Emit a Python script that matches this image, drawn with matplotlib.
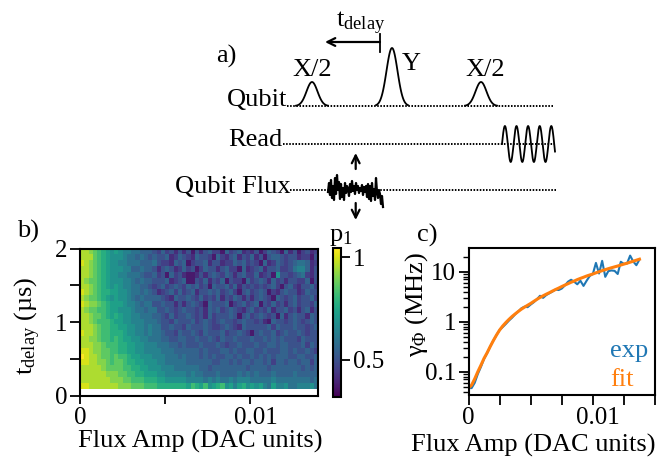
import numpy as np
import matplotlib
matplotlib.use("Agg")
import matplotlib.pyplot as plt
from matplotlib.ticker import NullFormatter, FixedLocator
from matplotlib.transforms import ScaledTranslation

plt.rcParams['font.family'] = ['Liberation Serif', 'DejaVu Serif']
plt.rcParams['mathtext.fontset'] = 'custom'
plt.rcParams['mathtext.rm'] = 'Liberation Serif'
plt.rcParams['mathtext.it'] = 'Liberation Serif'
plt.rcParams['mathtext.bf'] = 'Liberation Serif'
plt.rcParams['mathtext.default'] = 'rm'

# heatmap p1, one hex level per cell, top row is t = 2 us
p1_rows = [
 "ddcba987 87665544 43242313 13031342 20423412 13024320 41302312",
 "dddba987 77655454 34334124 32143320 42134132 41303443 23312203",
 "edcba987 76655544 45322143 40233413 31224342 32041243 23455412",
 "ddcba987 77664454 43134312 42302433 13422041 23413342 23566413",
 "ddcba987 76655543 34230423 10013134 32431342 24123073 32345213",
 "dcbba987 77665454 43334123 40032413 24032204 23431423 13322403",
 "ddcba987 87665544 32342343 24342304 33424132 32323420 34213342",
 "edcba998 87765545 43123424 23413343 42342034 23430213 43312433",
 "dcbba987 87765454 44432143 34324232 41324313 13432043 23423342",
 "edccba98 88766545 53343313 13432043 33402342 34032423 13423324",
 "dcbbaa98 87776554 55334323 43323143 42343213 42324133 42313413",
 "ddcbba98 98776655 54432423 34323142 33343034 23432304 13433143",
 "ddcbaaa9 88776665 55433243 33423432 34332343 32310433 23432343",
 "dddcbaa9 98877665 65533433 24333432 23432143 33334243 33433234",
 "eddcbaa9 99877665 65543324 33432433 34233432 03433423 43343233",
 "ddccbaa9 a9887766 55544334 43343343 24334333 43343434 33324333",
 "dddccbaa a9988776 66555443 43334333 43233433 34334434 43334243",
 "eedccbba a9988776 66655544 44443433 34434334 43343334 43433432",
 "feddcbba baa98877 76665554 54443434 33443433 43434344 43344334",
 "eeddccba bba99887 77665555 54444443 34434344 34434244 34434424",
 "dddddcbb bbaa9988 77766655 55554434 44444443 44443444 44443434",
 "ddddddcc cbbaa998 88776666 65655444 54444545 45444544 44544444",
 "dddddddc ccbbaaa9 99887777 76666565 65565666 55555655 55555545",
 "eedddddd dcccbbba aa999999 98a98a78 9a786897 87865866 75566675",
]
p1_level_start = 0.37
p1_level_step = 0.045

flux_amp = [i * 0.00025 for i in range(56)]
gamma_exp = [.047,.047,.06,.09,.125,.18,.235,.32,.42,.54,.68,.78,.90,1.05,1.2,1.4,
             1.6,1.85,2.0,1.95,2.2,2.45,2.8,3.3,3.0,3.4,3.7,4.0,4.4,4.3,4.6,5.3,
             6.3,6.9,6.3,5.6,6.6,5.2,6.6,8.2,9.0,15,9.2,16.5,7.9,10.3,10.6,10.4,
             9.0,15.8,14.3,14.6,21,16,13.5,17.5]
gamma_fit = [.047,.054,.072,.10,.135,.185,.24,.32,.42,.54,.68,.82,.96,1.11,1.27,1.43,
             1.6,1.78,1.95,2.13,2.32,2.55,2.8,3.05,3.3,3.55,3.8,4.1,4.4,4.7,5.05,5.4,
             5.75,6.15,6.5,6.95,7.35,7.75,8.2,8.6,9.0,9.5,10,10.5,11,11.5,
             12,12.5,13,13.6,14.2,14.8,15.5,16.2,17,17.8]
log_minor_ticks = [.04, .05, .06, .07, .08, .09, .2, .3, .4, .5, .6, .7, .8, .9,
                   2, 3, 4, 5, 6, 7, 8, 9, 20]

# schematic flux noise, pixel positions
noise_x = [328,329,330,331,332,333,334,335,336,337,338,339,340,341,342,343,344,345,346,347,
           348,349,350,351,352,353,354,355,356,357,358,359,360,361,362,363,364,365,366,367,
           368,369,370,371,372,373,374,375,376,377,378,379,380,381,382,383]
noise_y = [192,183,195,180,198,186,200,178,194,175,190,182,199,184,197,188,200,183,193,186,
           189,196,184,192,181,191,186,194,183,190,186,193,188,191,185,195,187,192,186,197,
           184,199,186,201,183,196,189,200,178,192,198,190,194,204,196,207]

W, H = 660, 457
fig = plt.figure(figsize=(W / 100, H / 100), dpi=100, facecolor='white')


def box(l, t, r, b):
    return [l / W, 1 - b / H, (r - l) / W, (b - t) / H]


FS = 19
TS = 18
SP = 1.5
ax_b = fig.add_axes(box(80, 248.5, 318, 396))
ax_c = fig.add_axes(box(468.5, 248, 655, 395))
ax_cb = fig.add_axes(box(333, 248, 341, 396.5))
ov = fig.add_axes([0, 0, 1, 1], facecolor='none', zorder=5)
ov.set_xlim(0, W)
ov.set_ylim(H, 0)
ov.axis('off')

# panel b
grid = np.array([[p1_level_start + p1_level_step * int(c, 16) for c in r.replace(' ', '')]
                 for r in p1_rows])
x_edges = np.linspace(0, 0.014, grid.shape[1] + 1)
y_edges = np.linspace(2, 0.1, grid.shape[0] + 1)
mesh = ax_b.pcolormesh(x_edges, y_edges, grid, cmap='viridis', vmin=0.322, vmax=1.044, rasterized=True)
ax_b.set_xlim(0, 0.014)
ax_b.set_ylim(0, 2)
ax_b.set_xticks([0, 0.005, 0.01], ['0', '', '0.01'])
ax_b.set_yticks([0, 0.5, 1, 1.5, 2], ['0', '', '1', '', '2'])
ax_b.set_xlabel('Flux Amp (DAC units)', fontsize=FS, va='baseline')
ax_b.xaxis.set_label_coords(200, 448, transform=ov.transData)
ax_b.set_ylabel(r'$\mathrm{t_{delay}}$ (µs)', fontsize=FS, va='baseline')
ax_b.yaxis.set_label_coords(33, 326, transform=ov.transData)

# colorbar
cb = fig.colorbar(mesh, cax=ax_cb)
cb.set_ticks([0.5, 1], labels=['0.5', '1'])
cb.ax.tick_params(length=6.5, width=1.3, labelsize=TS, pad=2)
cb.outline.set_linewidth(SP)

# panel c
ax_c.plot(flux_amp, gamma_exp, color='#1f77b4', lw=1.5)
ax_c.plot(flux_amp, gamma_fit, color='#ff7f0e', lw=2.2)
ax_c.set_yscale('log')
ax_c.set_xlim(0, 0.015)
ax_c.set_ylim(0.0342, 29.8)
ax_c.set_xticks([0, .0025, .005, .0075, .01, .0125, .015], ['0', '', '', '', '0.01', '', ''])
ax_c.yaxis.set_major_locator(FixedLocator([0.1, 1, 10]))
ax_c.yaxis.set_major_formatter(plt.FixedFormatter(['0.1', '1', '10']))
ax_c.yaxis.set_minor_locator(FixedLocator(log_minor_ticks))
ax_c.yaxis.set_minor_formatter(NullFormatter())
ax_c.set_xlabel('Flux Amp (DAC units)', fontsize=FS, va='baseline')
ax_c.xaxis.set_label_coords(533.5, 451.5, transform=ov.transData)
ax_c.set_ylabel(r'$\gamma_{\Phi}$ (MHz)', fontsize=FS, va='baseline')
ax_c.yaxis.set_label_coords(423, 304, transform=ov.transData)

for ax in (ax_b, ax_c):
    for s in ax.spines.values():
        s.set_linewidth(SP)
    ax.tick_params(which='major', length=7, width=1.3, labelsize=TS, pad=2)
    ax.tick_params(which='minor', length=4, width=1.0)
ax_b.tick_params(axis='x', length=6)

# the 0.01 labels sit a little right of their ticks in the reference
shift = ScaledTranslation(5.5 / 100, 0, fig.dpi_scale_trans)
for ax in (ax_b, ax_c):
    for lab in ax.get_xticklabels():
        if lab.get_text() == '0.01':
            lab.set_transform(lab.get_transform() + shift)

# schematic
dot = dict(color='black', lw=1.4, ls=(0, (0.8, 0.8)))
ov.plot([287, 553], [106, 106], **dot)
ov.plot([283, 555], [144, 144], **dot)
ov.plot([290, 557], [190, 190], **dot)
for cx, top, sig, half in [(312, 82, 5.5, 16), (392, 48, 5.5, 16), (481, 82, 5.5, 16)]:
    xs = np.linspace(cx - half, cx + half, 80)
    ov.plot(xs, 106 - (106 - top) * np.exp(-((xs - cx) / sig) ** 2 / 2), color='black', lw=1.3)
xs = np.linspace(502, 555, 300)
ov.plot(xs, 144 - 18 * np.sin(2 * np.pi * (xs - 502) / 11.6), color='black', lw=1.3)
ov.plot(noise_x, noise_y, color='black', lw=1.6)
arrow = dict(arrowstyle='->', color='black', lw=1.6, shrinkA=0, shrinkB=0, mutation_scale=14)
ov.annotate('', xy=(355.7, 153), xytext=(355.7, 169), arrowprops=arrow)
ov.annotate('', xy=(355.7, 220), xytext=(355.7, 203), arrowprops=arrow)
ov.annotate('', xy=(325, 42), xytext=(380, 42), arrowprops=arrow)
ov.plot([380, 380], [34, 52], color='black', lw=1.3)

labels = [('a)', 216, 63), ('X/2', 292.5, 76), ('Y', 402, 70), ('X/2', 465.5, 76),
          ('Qubit', 227, 106), ('Read', 228, 146), ('Qubit Flux', 175, 193),
          (r'$\mathrm{t_{delay}}$', 336, 27), ('b)', 17, 238), ('c)', 417, 242),
          (r'$\mathrm{p_1}$', 329, 241)]
for s, x, y in labels:
    ov.text(x, y, s, fontsize=FS, ha='left', va='baseline', color='black')
ov.text(610, 357, 'exp', fontsize=FS, color='#1f77b4', ha='left', va='baseline')
ov.text(610, 386, 'fit', fontsize=FS, color='#ff7f0e', ha='left', va='baseline')

fig.savefig('out.png', dpi=100)
